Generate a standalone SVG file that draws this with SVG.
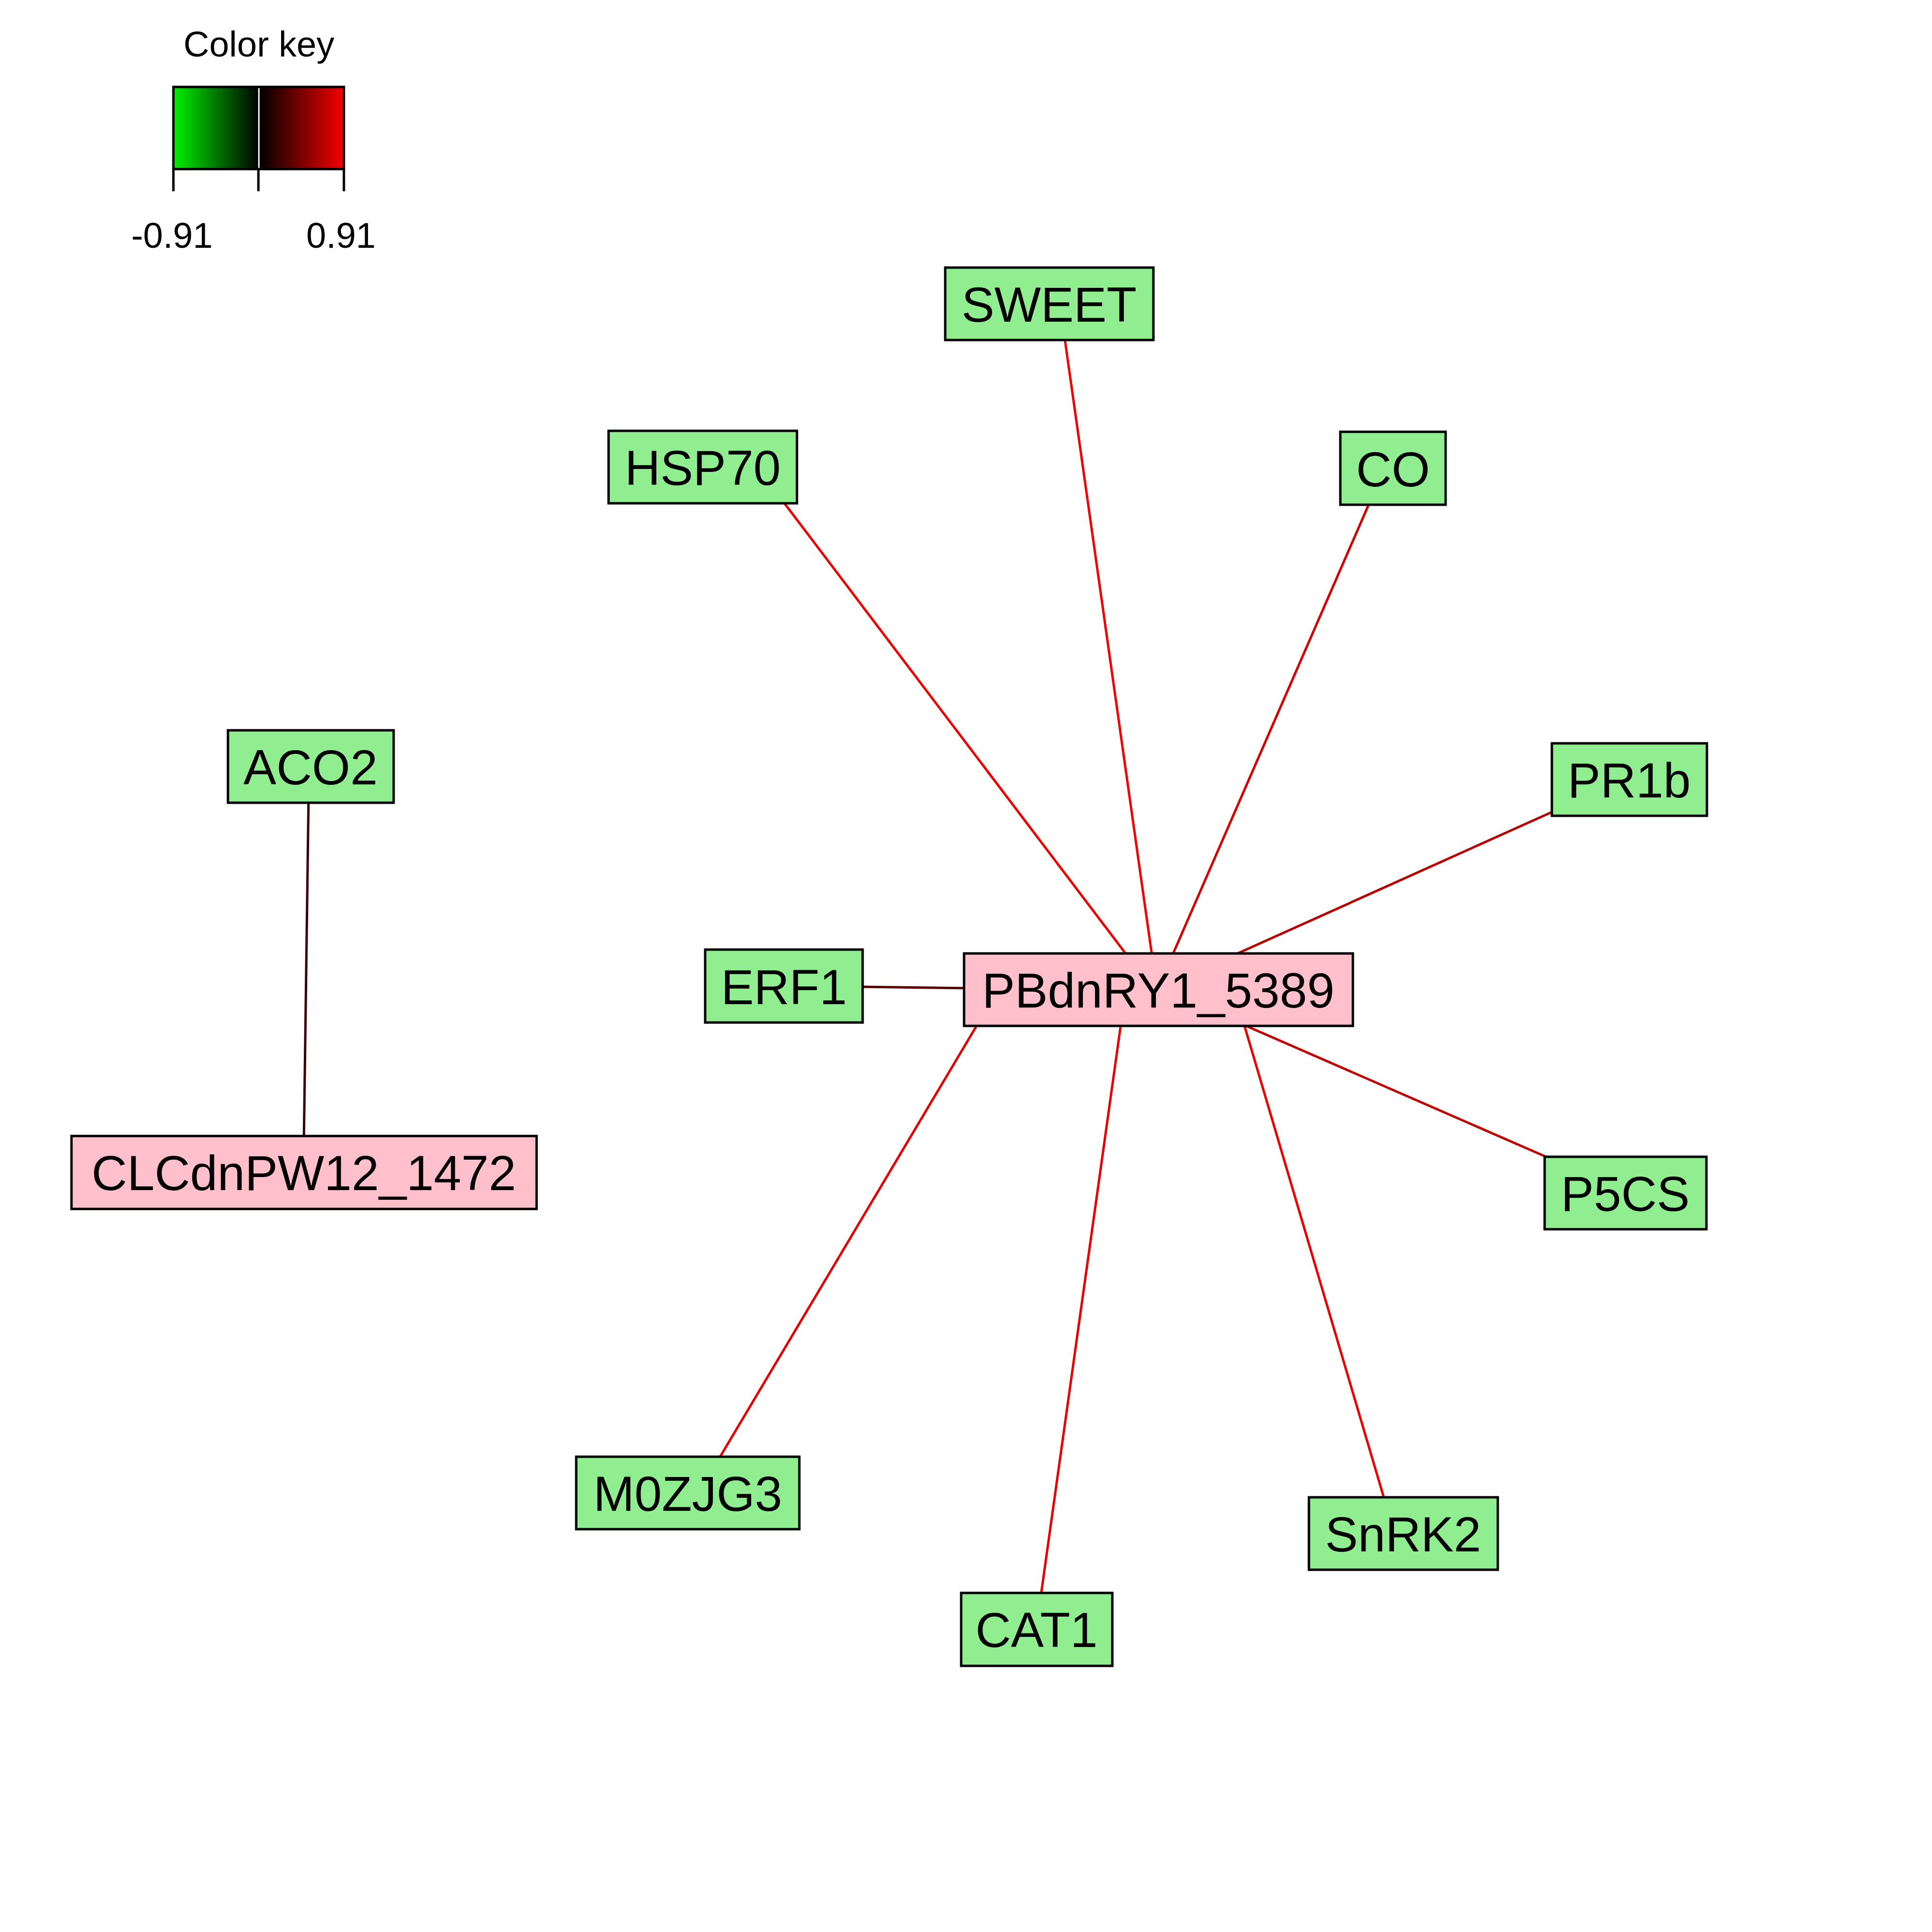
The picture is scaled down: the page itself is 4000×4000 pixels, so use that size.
<svg xmlns="http://www.w3.org/2000/svg" width="4000" height="4000" viewBox="0 0 4000 4000">
<style>
  text { font-family: "Liberation Sans", Arial, sans-serif; fill: #000; }
  .lbl { font-size: 102px; text-anchor: middle; }
  .key { font-size: 74px; text-anchor: middle; }
  .node rect { stroke: #000; stroke-width: 5; }
  .g rect { fill: #90EE90; }
  .p rect { fill: #FFC0CB; }
  .edges line { stroke-width: 5; fill: none; }
  .tick { stroke: #000; stroke-width: 5; }
</style>
<defs>
  <linearGradient id="gneg" x1="0" y1="0" x2="1" y2="0">
    <stop offset="0" stop-color="#00f000"/>
    <stop offset="1" stop-color="#000000"/>
  </linearGradient>
  <linearGradient id="gpos" x1="0" y1="0" x2="1" y2="0">
    <stop offset="0" stop-color="#000000"/>
    <stop offset="1" stop-color="#f50000"/>
  </linearGradient>
</defs>
<rect x="0" y="0" width="4000" height="4000" fill="#fff"/>

<g id="colorkey">
  <text class="key" x="536" y="117">Color key</text>
  <rect x="359" y="180" width="177" height="170" fill="url(#gneg)"/>
  <rect x="536" y="180" width="176" height="170" fill="url(#gpos)"/>
  <line x1="536" y1="182" x2="536" y2="348" stroke="#fff" stroke-width="3"/>
  <rect x="359" y="180" width="353" height="170" fill="none" stroke="#000" stroke-width="5"/>
  <line class="tick" x1="359" y1="350" x2="359" y2="396"/>
  <line class="tick" x1="535" y1="350" x2="535" y2="396" stroke-width="6"/>
  <line class="tick" x1="712" y1="350" x2="712" y2="396"/>
  <text class="key" x="356" y="513">-0.91</text>
  <text class="key" x="706" y="513">0.91</text>
</g>

<g id="edges" class="edges">
  <line x1="2202" y1="684" x2="2387" y2="1992" stroke="#f00000"/>
  <line x1="1612" y1="1026" x2="2341" y2="1988" stroke="#ea0000"/>
  <line x1="2841" y1="1028" x2="2422" y2="1990" stroke="#d20000"/>
  <line x1="3227" y1="1675" x2="2549" y2="1980" stroke="#b60000"/>
  <line x1="1770" y1="2043" x2="2010" y2="2046" stroke="#5a0000" stroke-width="6"/>
  <line x1="2564" y1="2117" x2="3217" y2="2402" stroke="#c00000"/>
  <line x1="2571" y1="2105" x2="2870" y2="3117" stroke="#e60000"/>
  <line x1="2323" y1="2104" x2="2153" y2="3318" stroke="#e60000"/>
  <line x1="2032" y1="2107" x2="1482" y2="3031" stroke="#e20000"/>
  <line x1="639" y1="1642" x2="629" y2="2372" stroke="#3a0005"/>
</g>

<g id="SWEET" class="node g"><rect x="1957" y="554" width="431" height="150"/><text class="lbl" x="2172" y="666">SWEET</text></g>
<g id="HSP70" class="node g"><rect x="1260" y="892" width="390" height="150"/><text class="lbl" x="1455" y="1004">HSP70</text></g>
<g id="CO" class="node g"><rect x="2775" y="894" width="218" height="151"/><text class="lbl" x="2884" y="1007">CO</text></g>
<g id="ACO2" class="node g"><rect x="472" y="1512" width="343" height="150"/><text class="lbl" x="643" y="1624">ACO2</text></g>
<g id="PR1b" class="node g"><rect x="3213" y="1539" width="321" height="150"/><text class="lbl" x="3373" y="1651">PR1b</text></g>
<g id="ERF1" class="node g"><rect x="1460" y="1966" width="326" height="151"/><text class="lbl" x="1623" y="2079">ERF1</text></g>
<g id="PBdnRY1_5389" class="node p"><rect x="1996" y="1974" width="805" height="150"/><text class="lbl" x="2398" y="2086">PBdnRY1_5389</text></g>
<g id="P5CS" class="node g"><rect x="3198" y="2395" width="335" height="150"/><text class="lbl" x="3365" y="2507">P5CS</text></g>
<g id="CLCdnPW12_1472" class="node p"><rect x="148" y="2352" width="963" height="151"/><text class="lbl" x="629" y="2464">CLCdnPW12_1472</text></g>
<g id="M0ZJG3" class="node g"><rect x="1193" y="3016" width="462" height="150"/><text class="lbl" x="1424" y="3128">M0ZJG3</text></g>
<g id="CAT1" class="node g"><rect x="1990" y="3298" width="313" height="151"/><text class="lbl" x="2146" y="3410">CAT1</text></g>
<g id="SnRK2" class="node g"><rect x="2710" y="3100" width="391" height="150"/><text class="lbl" x="2905" y="3212">SnRK2</text></g>
</svg>
